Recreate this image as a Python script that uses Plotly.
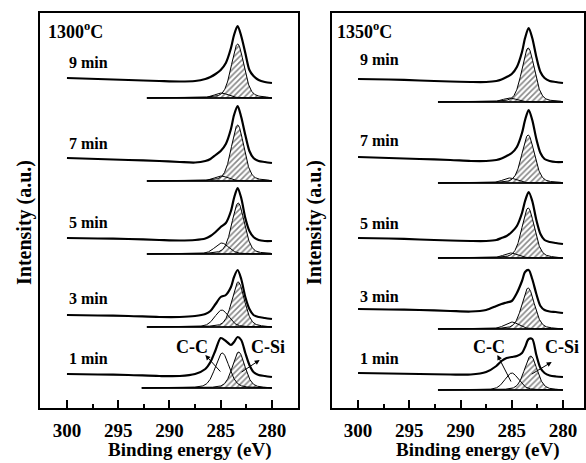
import numpy as np
import plotly.graph_objects as go

# ---------------- data ----------------
times = ["1 min", "3 min", "5 min", "7 min", "9 min"]
temps = ["1300", "1350"]
x_ticks = [300, 295, 290, 285, 280]
x_minor = [297.5, 292.5, 287.5, 282.5]

# binding energies at which the measured curves were read (eV)
E_EXP = [300, 297, 294, 291, 289, 287.5, 286.5, 286, 285.5, 285, 284.5,
         284, 283.7, 283.35, 283, 282.6, 282.2, 281.8, 281.3, 280.7, 280]

# measured spectra (intensity above each fit baseline, a.u.)
exp1300_1 = [14, 13.5, 13, 12, 12, 14, 19, 26, 38, 50, 47, 43, 46, 51, 48, 35, 23, 16, 13, 12, 11]
exp1300_3 = [12, 11.5, 11, 10, 10, 11, 13, 16, 23, 30, 32, 40, 50, 57, 48, 30, 18, 12, 10, 9, 8]
exp1300_5 = [16, 15.5, 15, 14, 13.5, 14, 15.5, 18, 22, 27, 31, 43, 56, 66, 56, 36, 23, 17, 14, 13, 13]
exp1300_7 = [23, 22, 21, 20, 19, 18.5, 20, 22, 26, 30, 37, 52, 66, 75, 64, 46, 30, 23, 20, 19, 18]
exp1300_9 = [20, 19, 18, 17, 16.5, 17, 19, 21, 24, 28, 35, 50, 63, 72, 62, 45, 28, 22, 18, 16, 15]

exp1350_1 = [17, 16.5, 16, 15.5, 15.5, 18, 24, 29, 32, 33, 34, 37, 43, 51, 51, 35, 22, 17, 14.5, 13.5, 13]
exp1350_3 = [20, 19.5, 19, 18, 17.5, 19, 23, 25, 26.5, 28, 36, 48, 57, 59, 50, 35, 23, 19, 17.5, 17, 16]
exp1350_5 = [20, 19.5, 18.5, 17.5, 17, 17, 18, 20, 22, 26, 32, 45, 57, 66, 57, 38, 24, 18, 16, 15, 14]
exp1350_7 = [26, 25, 24, 23, 22, 22, 23, 24.5, 27, 30, 36, 50, 63, 73, 63, 44, 30, 24, 22, 21, 21]
exp1350_9 = [23, 22.5, 21.5, 20.5, 20, 20, 21, 22.5, 25, 28, 35, 50, 64, 74, 64, 45, 30, 24, 21, 20, 19]

# fitted components (peak centre eV, peak height a.u.)
cc_pos_1300 = [284.85, 284.9, 284.9, 284.95, 284.95]
cc_amp_1300 = [35, 17, 11, 5, 5]
csi_pos_1300 = [283.25, 283.3, 283.3, 283.35, 283.35]
csi_amp_1300 = [36, 45, 51, 56, 54]

cc_pos_1350 = [285.0, 285.0, 285.1, 285.2, 285.2]
cc_amp_1350 = [17, 7, 5, 5, 4]
csi_pos_1350 = [283.15, 283.4, 283.4, 283.4, 283.4]
csi_amp_1350 = [34, 41, 50, 48, 54]

fit_start_1300 = [292.7, 292.2, 292.2, 292.2, 292.2]
fit_start_1350 = [292.2, 292.2, 292.2, 292.2, 292.2]
fit_end = 280

CC_FWHM = 1.6
CSI_FWHM = 1.45
ETA = 0.3

# ---------------- layout constants ----------------
W, H = 586, 463
offsets = {"1300": [20, 81, 154, 227, 310], "1350": [18, 79, 150, 225, 306]}
label_y = {"1300": [50, 110, 186, 265, 346], "1350": [50, 112, 185, 268, 349]}
FONT = "Liberation Serif"


def pvoigt(x, c, h, w, eta=ETA):
    r = (x - c) / w
    g = np.exp(-4 * np.log(2) * r ** 2)
    l = 1.0 / (1 + 4 * r ** 2)
    return h * (eta * l + (1 - eta) * g)


panel_data = {
    "1300": dict(exp=[exp1300_1, exp1300_3, exp1300_5, exp1300_7, exp1300_9],
                 ccp=cc_pos_1300, cca=cc_amp_1300, sip=csi_pos_1300, sia=csi_amp_1300,
                 start=fit_start_1300, xa="x", ya="y"),
    "1350": dict(exp=[exp1350_1, exp1350_3, exp1350_5, exp1350_7, exp1350_9],
                 ccp=cc_pos_1350, cca=cc_amp_1350, sip=csi_pos_1350, sia=csi_amp_1350,
                 start=fit_start_1350, xa="x2", ya="y2"),
}

fig = go.Figure()
for t in temps:
    d = panel_data[t]
    for i in range(len(times)):
        off = offsets[t][i]
        xs = np.linspace(d["start"][i], fit_end, 400)
        csi = pvoigt(xs, d["sip"][i], d["sia"][i], CSI_FWHM)
        cc = pvoigt(xs, d["ccp"][i], d["cca"][i], CC_FWHM)
        px = np.concatenate([xs, xs[::-1]])
        py = np.concatenate([off + csi, np.full_like(xs, off)])
        fig.add_trace(go.Scatter(
            x=px, y=py, mode="lines", fill="toself", fillcolor="white",
            fillpattern=dict(shape="/", fgcolor="#111111", bgcolor="white", size=4, solidity=0.4),
            line=dict(color="black", width=1), xaxis=d["xa"], yaxis=d["ya"], hoverinfo="skip"))
        fig.add_trace(go.Scatter(
            x=xs, y=off + cc, mode="lines", line=dict(color="black", width=1),
            xaxis=d["xa"], yaxis=d["ya"], hoverinfo="skip"))
        fig.add_trace(go.Scatter(
            x=[d["start"][i], fit_end], y=[off, off], mode="lines",
            line=dict(color="black", width=1.5), xaxis=d["xa"], yaxis=d["ya"], hoverinfo="skip"))
        fig.add_trace(go.Scatter(
            x=E_EXP, y=off + np.array(d["exp"][i], dtype=float), mode="lines",
            line=dict(color="black", width=2.2, shape="spline", smoothing=0.8),
            xaxis=d["xa"], yaxis=d["ya"], hoverinfo="skip"))

tickfont = dict(family=FONT, size=19, color="black")
xcommon = dict(showline=True, linewidth=2, linecolor="black", mirror=True,
               ticks="inside", ticklen=8, tickwidth=1.5, tickcolor="black",
               tickvals=x_ticks, ticktext=["<b>%d</b>" % v for v in x_ticks], tickfont=tickfont,
               ticklabelstandoff=4,
               minor=dict(tickvals=x_minor, ticks="inside", ticklen=4, tickwidth=1.5, tickcolor="black"),
               showgrid=False, zeroline=False)
ycommon = dict(showline=True, linewidth=2, linecolor="black", mirror=True,
               ticks="", showticklabels=False, showgrid=False, zeroline=False,
               range=[0, 395], domain=[55 / H, 450 / H])

fig.update_layout(
    width=W, height=H, margin=dict(l=0, r=0, t=0, b=0),
    paper_bgcolor="white", plot_bgcolor="white", showlegend=False,
    xaxis=dict(domain=[40 / W, 298 / W], range=[302.63, 277.46], anchor="y", **xcommon),
    xaxis2=dict(domain=[332 / W, 584 / W], range=[302.54, 277.95], anchor="y2", **xcommon),
    yaxis=dict(anchor="x", **ycommon),
    yaxis2=dict(anchor="x2", **ycommon),
)

ann = []
lab_font = dict(family=FONT, size=16, color="black")
for t, xa, ya in [("1300", "x", "y"), ("1350", "x2", "y2")]:
    for i, tm in enumerate(times):
        ann.append(dict(x=300, y=label_y[t][i], xref=xa, yref=ya, text="<b>%s</b>" % tm,
                        showarrow=False, xanchor="left", yanchor="middle", font=lab_font))

# temperature labels
ann.append(dict(x=46 / W, y=1 - 30 / H, xref="paper", yref="paper", text="<b>1300<sup>o</sup>C</b>",
                showarrow=False, xanchor="left", yanchor="middle", font=dict(family=FONT, size=18, color="black")))
ann.append(dict(x=335 / W, y=1 - 30 / H, xref="paper", yref="paper", text="<b>1350<sup>o</sup>C</b>",
                showarrow=False, xanchor="left", yanchor="middle", font=dict(family=FONT, size=18, color="black")))

# axis titles
for xc in [190, 478]:
    ann.append(dict(x=xc / W, y=1 - 450 / H, xref="paper", yref="paper", text="<b>Binding energy (eV)</b>",
                    showarrow=False, xanchor="center", yanchor="middle", font=dict(family=FONT, size=19, color="black")))
for xc in [24, 314]:
    ann.append(dict(x=xc / W, y=1 - 223 / H, xref="paper", yref="paper", text="<b>Intensity (a.u.)</b>",
                    textangle=-90, showarrow=False, xanchor="center", yanchor="middle",
                    font=dict(family=FONT, size=20, color="black")))

# peak labels and arrows
peak_font = dict(family=FONT, size=18, color="black")
for xa, ya, cc_txt, si_txt, cc_head, cc_tail, si_head, si_tail in [
    ("x", "y", (287.8, 61), (280.4, 61), (286.5, 53), (284.9, 35), (281.2, 48), (283.1, 35)),
    ("x2", "y2", (287.2, 61), (280.1, 61), (286.4, 53), (285.0, 25), (281.1, 46), (283.2, 33)),
]:
    ann.append(dict(x=cc_txt[0], y=cc_txt[1], xref=xa, yref=ya, text="<b>C-C</b>", showarrow=False, font=peak_font))
    ann.append(dict(x=si_txt[0], y=si_txt[1], xref=xa, yref=ya, text="<b>C-Si</b>", showarrow=False, font=peak_font))
    for head, tail in [(cc_head, cc_tail), (si_head, si_tail)]:
        ann.append(dict(x=head[0], y=head[1], ax=tail[0], ay=tail[1], xref=xa, yref=ya,
                        axref=xa, ayref=ya, text="", showarrow=True, arrowhead=2, arrowsize=1,
                        arrowwidth=1, arrowcolor="black"))

fig.update_layout(annotations=ann)
fig.write_html("out.html", config={"displayModeBar": False},
               post_script="document.body.style.margin='0';document.body.style.overflow='hidden';")
